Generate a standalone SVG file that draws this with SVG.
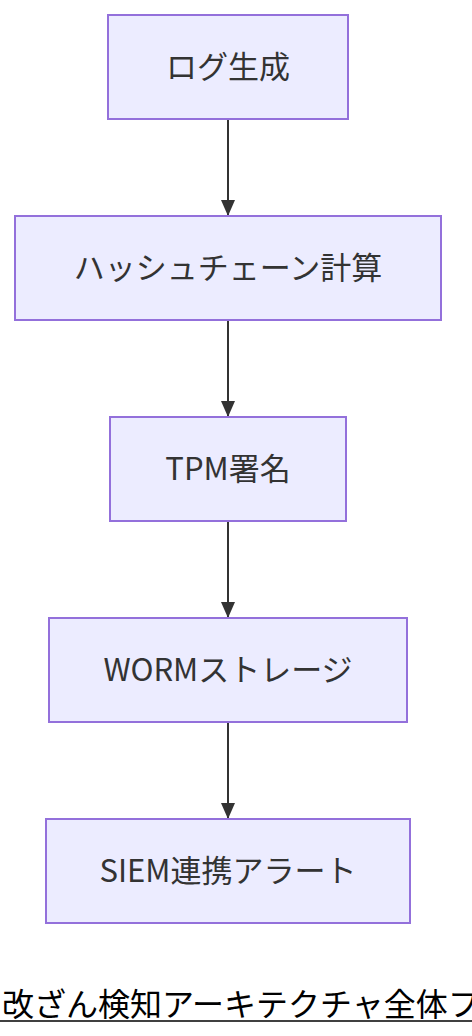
<svg xmlns="http://www.w3.org/2000/svg" width="472" height="1036" viewBox="0 0 472 1036">
<defs>
<style>
.node rect{fill:#ECECFF;stroke:#9370DB;stroke-width:2}
.node text{font-family:"Noto Sans CJK JP","Noto Sans",sans-serif;font-size:31px;fill:#333333;text-anchor:middle;dominant-baseline:central}
.edge{stroke:#333333;stroke-width:2;fill:none}
.title{font-family:"Noto Sans CJK JP",sans-serif;font-size:32px;fill:#000000;dominant-baseline:central}
</style>
<marker id="arrow" viewBox="0 0 16 14" refX="16" refY="7" markerWidth="16" markerHeight="14" markerUnits="userSpaceOnUse" orient="auto">
<path d="M0,0 L16,7 L0,14 Z" fill="#333333"/>
</marker>
</defs>
<g id="connectors">
<line class="edge" x1="228" y1="120" x2="228" y2="216" marker-end="url(#arrow)"/>
<line class="edge" x1="228" y1="321" x2="228" y2="417" marker-end="url(#arrow)"/>
<line class="edge" x1="228" y1="522" x2="228" y2="618" marker-end="url(#arrow)"/>
<line class="edge" x1="228" y1="723" x2="228" y2="819" marker-end="url(#arrow)"/>
</g>
<g id="node1" class="node"><rect x="108" y="15" width="240" height="104"/><text x="228" y="64">ログ生成</text></g>
<g id="node2" class="node"><rect x="15" y="216" width="426" height="104"/><text x="228" y="265">ハッシュチェーン計算</text></g>
<g id="node3" class="node"><rect x="110" y="417" width="236" height="104"/><text x="228" y="466">TPM署名</text></g>
<g id="node4" class="node"><rect x="49" y="618" width="358" height="104"/><text x="228" y="667">WORMストレージ</text></g>
<g id="node5" class="node"><rect x="46" y="819" width="364" height="104"/><text x="228" y="868">SIEM連携アラート</text></g>
<g id="title">
<text class="title" x="2" y="1002">改ざん検知アーキテクチャ全体フ</text>
<line x1="0" y1="1021" x2="472" y2="1021" stroke="#000000" stroke-width="1.5"/>
</g>
</svg>
